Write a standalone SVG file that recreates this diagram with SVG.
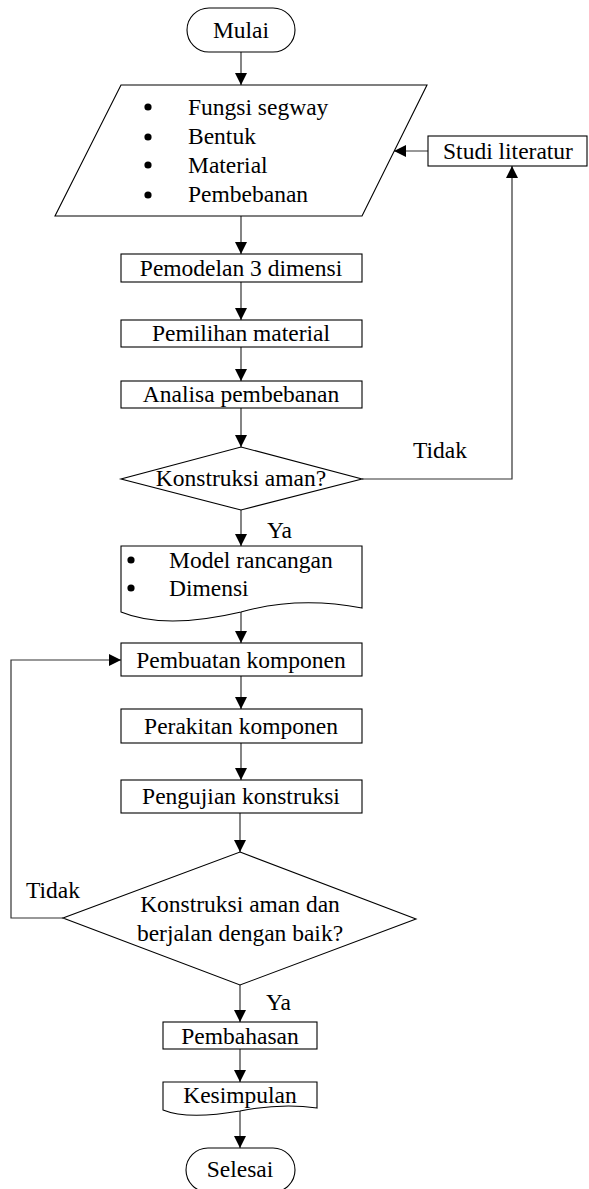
<svg xmlns="http://www.w3.org/2000/svg" width="589" height="1189" viewBox="0 0 589 1189">
<style>
.s{fill:#fff;stroke:#000;stroke-width:1.1}
.c{fill:none;stroke:#333;stroke-width:1.2}
text{font-family:"Liberation Serif","Times New Roman",serif;font-size:23.5px;fill:#000}
.m{text-anchor:middle}
</style>
<defs>
<marker id="a" markerWidth="12" markerHeight="12" refX="12" refY="6" orient="auto" markerUnits="userSpaceOnUse">
<path d="M0,0 L12,6 L0,12 Z" fill="#000"/>
</marker>
</defs>
<rect width="589" height="1189" fill="#fff"/>
<g id="connectors">
<path class="c" d="M241,52 V85" marker-end="url(#a)"/>
<path class="c" d="M241,216 V254" marker-end="url(#a)"/>
<path class="c" d="M241,282 V320" marker-end="url(#a)"/>
<path class="c" d="M241,347 V381" marker-end="url(#a)"/>
<path class="c" d="M241,408 V447" marker-end="url(#a)"/>
<path class="c" d="M241,510 V546" marker-end="url(#a)"/>
<path class="c" d="M241,612 V643" marker-end="url(#a)"/>
<path class="c" d="M241,676 V709" marker-end="url(#a)"/>
<path class="c" d="M241,743 V780" marker-end="url(#a)"/>
<path class="c" d="M240,813 V852" marker-end="url(#a)"/>
<path class="c" d="M240,985 V1022" marker-end="url(#a)"/>
<path class="c" d="M240,1049 V1082" marker-end="url(#a)"/>
<path class="c" d="M240,1111 V1148" marker-end="url(#a)"/>
<path class="c" d="M362,479 H512 V166" marker-end="url(#a)"/>
<path class="c" d="M428,151 H394" marker-end="url(#a)"/>
<path class="c" d="M63,918 H11 V660 H121" marker-end="url(#a)"/>
<text x="413" y="458">Tidak</text>
<text x="267" y="538">Ya</text>
<text x="26" y="898">Tidak</text>
<text x="266" y="1010">Ya</text>
</g>
<g id="mulai">
<rect class="s" x="187" y="8" width="108" height="44" rx="22"/>
<text class="m" x="241" y="38">Mulai</text>
</g>
<g id="input">
<path class="s" d="M121,85 H427 L362,216 H55 Z"/>
<circle cx="148" cy="107" r="3.6"/><circle cx="148" cy="137" r="3.6"/><circle cx="148" cy="165" r="3.6"/><circle cx="148" cy="195" r="3.6"/>
<text x="188" y="115">Fungsi segway</text>
<text x="188" y="144">Bentuk</text>
<text x="188" y="173">Material</text>
<text x="188" y="202">Pembebanan</text>
</g>
<g id="studi">
<rect class="s" x="428" y="136" width="159" height="30"/>
<text class="m" x="508" y="159">Studi literatur</text>
</g>
<g id="pemodelan">
<rect class="s" x="121" y="254" width="241" height="28"/>
<text class="m" x="241" y="276">Pemodelan 3 dimensi</text>
</g>
<g id="pemilihan">
<rect class="s" x="121" y="320" width="241" height="27"/>
<text class="m" x="241" y="341">Pemilihan material</text>
</g>
<g id="analisa">
<rect class="s" x="121" y="381" width="241" height="27"/>
<text class="m" x="241" y="402">Analisa pembebanan</text>
</g>
<g id="decision1">
<path class="s" d="M241,447 L362,479 L241,510 L121,479 Z"/>
<text class="m" x="241" y="486">Konstruksi aman?</text>
</g>
<g id="dokumen">
<path class="s" d="M121,546 H362 V608 C320,600 280,601 241,612 C190,624 150,624 121,612 Z"/>
<circle cx="131" cy="560" r="3.6"/><circle cx="131" cy="588" r="3.6"/>
<text x="169" y="568">Model rancangan</text>
<text x="169" y="596">Dimensi</text>
</g>
<g id="pembuatan">
<rect class="s" x="121" y="643" width="241" height="33"/>
<text class="m" x="241" y="668">Pembuatan komponen</text>
</g>
<g id="perakitan">
<rect class="s" x="121" y="709" width="241" height="34"/>
<text class="m" x="241" y="734">Perakitan komponen</text>
</g>
<g id="pengujian">
<rect class="s" x="121" y="780" width="241" height="33"/>
<text class="m" x="241" y="804">Pengujian konstruksi</text>
</g>
<g id="decision2">
<path class="s" d="M240,852 L416,919 L240,985 L63,918 Z"/>
<text class="m" x="240" y="912">Konstruksi aman dan</text>
<text class="m" x="240" y="941">berjalan dengan baik?</text>
</g>
<g id="pembahasan">
<rect class="s" x="163" y="1022" width="154" height="27"/>
<text class="m" x="240" y="1044">Pembahasan</text>
</g>
<g id="kesimpulan">
<path class="s" d="M163,1082 H317 V1108 C290,1104 265,1106 240,1111 C205,1117 180,1117 163,1110 Z"/>
<text class="m" x="240" y="1103">Kesimpulan</text>
</g>
<g id="selesai">
<rect class="s" x="186" y="1148" width="109" height="44" rx="22"/>
<text class="m" x="240" y="1177">Selesai</text>
</g>
</svg>
